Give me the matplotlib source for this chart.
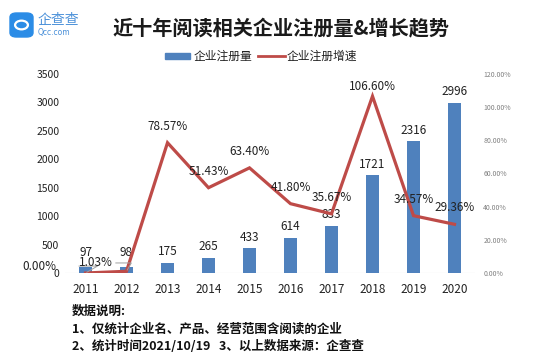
import numpy as np
import matplotlib
matplotlib.use('Agg')
import matplotlib.pyplot as plt
from matplotlib.patches import FancyBboxPatch, Circle, Rectangle
from matplotlib.lines import Line2D

plt.rcParams['font.family'] = ['Noto Sans CJK SC', 'DejaVu Sans']

# data
years = ['2011', '2012', '2013', '2014', '2015', '2016', '2017', '2018', '2019', '2020']
counts = [97, 98, 175, 265, 433, 614, 833, 1721, 2316, 2996]
growth = [0.0, 1.03, 78.57, 51.43, 63.40, 41.80, 35.67, 106.60, 34.57, 29.36]
growth_labels = ['0.00%', '1.03%', '78.57%', '51.43%', '63.40%', '41.80%',
                 '35.67%', '106.60%', '34.57%', '29.36%']
left_ticks = [0, 500, 1000, 1500, 2000, 2500, 3000, 3500]
right_ticks = [0, 20, 40, 60, 80, 100, 120]

bar_color = '#4F81BD'
line_color = '#BE4B48'

fig = plt.figure(figsize=(5.36, 3.63), dpi=100)
ax = fig.add_axes([65/536, 1-273/363, 410/536, 199/363])
x = np.arange(len(years))

# bars - company registrations
ax.bar(x, counts, width=0.32, color=bar_color, zorder=2)
ax.set_xlim(-0.5, len(years) - 0.5)
ax.set_ylim(0, 3500)
ax.set_yticks(left_ticks)
ax.set_yticklabels([str(t) for t in left_ticks], fontsize=7.5, color='#222222')
ax.set_xticks(x)
ax.set_xticklabels(years, fontsize=8.5, color='#222222')
ax.tick_params(length=0, pad=4)
ax.tick_params(axis='x', pad=7)
for s in ax.spines.values():
    s.set_visible(False)
ax.axhline(0, color='#D0D0D0', lw=0.8, zorder=1)

for xi, c in zip(x, counts):
    off = 11 if xi < 2 else 8
    ax.annotate(str(c), (xi, c), xytext=(0, off), textcoords='offset points',
                ha='center', va='center', fontsize=8.5, color='#222222')

# line - growth rate on right axis
ax2 = ax.twinx()
ax2.set_ylim(0, 120)
ax2.set_yticks(right_ticks)
ax2.set_yticklabels(['%.2f%%' % t for t in right_ticks], fontsize=5, color='#808080')
ax2.tick_params(length=0, pad=6)
for s in ax2.spines.values():
    s.set_visible(False)
ax2.plot(x, growth, color=line_color, lw=2.3, zorder=3, solid_joinstyle='miter')

for xi, g, lab in zip(x, growth, growth_labels):
    if xi < 2:
        continue
    off = 7 if g > 100 else 12
    ax2.annotate(lab, (xi, g), xytext=(0, off), textcoords='offset points',
                 ha='center', va='center', fontsize=8.5, color='#222222')

# first two labels sit off to the left with leader lines
ax2.annotate('0.00%', (0, 0), xytext=(-33, 5), textcoords='offset points',
             ha='center', va='center', fontsize=8.5, color='#222222',
             arrowprops=dict(arrowstyle='-', color='#A0A0A0', lw=0.7,
                             connectionstyle='angle,angleA=0,angleB=30',
                             shrinkA=14, shrinkB=1))
ax2.annotate('1.03%', (1, growth[1]), xytext=(-22, 6), textcoords='offset points',
             ha='center', va='center', fontsize=8.5, color='#222222',
             arrowprops=dict(arrowstyle='-', color='#A0A0A0', lw=0.7,
                             connectionstyle='angle,angleA=0,angleB=60',
                             shrinkA=12, shrinkB=1))

# title
fig.text(0.525, 1-28/363, '近十年阅读相关企业注册量&增长趋势', ha='center', va='center',
         fontsize=14.5, fontweight='bold', color='#1a1a1a')

# logo
logo = FancyBboxPatch((10/536, 1-37/363), 23/536, 24/363,
                      boxstyle='round,pad=0,rounding_size=0.012',
                      transform=fig.transFigure, color='#2B8CE6', zorder=5)
fig.patches.append(logo)
fig.patches.append(Circle((21.5/536, 1-25/363), 0.012, transform=fig.transFigure,
                          fill=False, ec='white', lw=1.6, zorder=6))
fig.text(38/536, 1-20/363, '企查查', ha='left', va='center', fontsize=10,
         color='#4A90D9')
fig.text(38/536, 1-33/363, 'Qcc.com', ha='left', va='center', fontsize=5.5,
         color='#4A90D9', family=['DejaVu Sans'])

# legend
fig.patches.append(Rectangle((165/536, 1-58.5/363), 25/536, 5/363,
                             transform=fig.transFigure, color=bar_color))
fig.text(194/536, 1-56/363, '企业注册量', ha='left', va='center', fontsize=8.5,
         color='#222222')
fig.lines.append(Line2D([258/536, 285/536], [1-56/363, 1-56/363],
                        transform=fig.transFigure, color=line_color, lw=2))
fig.text(287/536, 1-56/363, '企业注册增速', ha='left', va='center', fontsize=8.5,
         color='#222222')

# notes
notes = ['数据说明:',
         '1、仅统计企业名、产品、经营范围含阅读的企业',
         '2、统计时间2021/10/19   3、以上数据来源：企查查']
for i, n in enumerate(notes):
    fig.text(72/536, 1-(311 + 18*i)/363, n, ha='left', va='center', fontsize=9,
             fontweight='bold', color='#111111')

fig.savefig('out.png', dpi=100)
